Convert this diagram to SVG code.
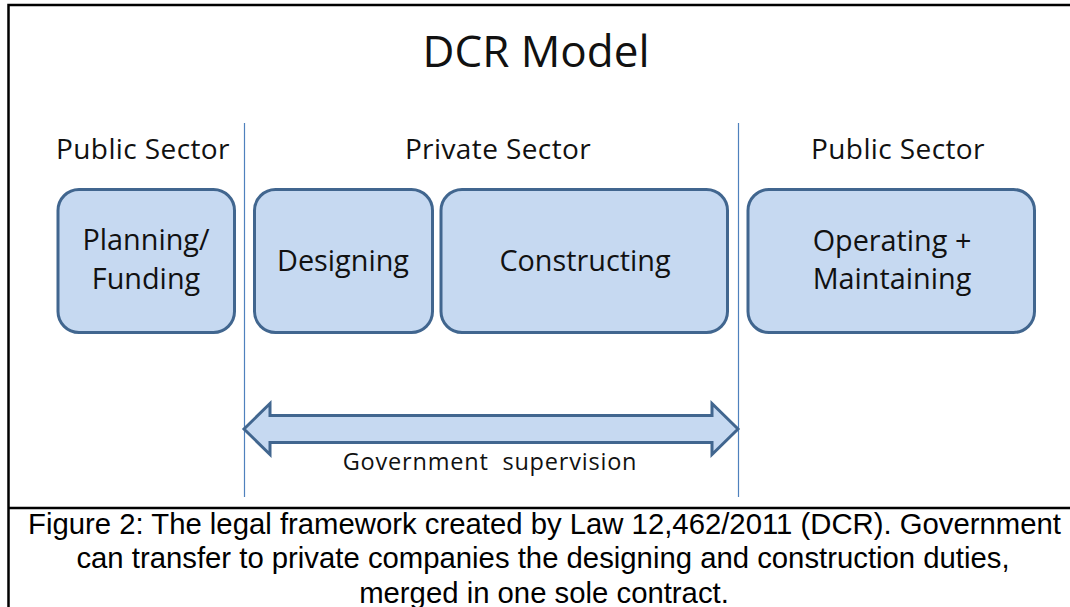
<svg xmlns="http://www.w3.org/2000/svg" width="1070" height="607" viewBox="0 0 1070 607">
<style>
.box{fill:#c6d9f1;stroke:#41668f;stroke-width:3}
.lbl{font-family:"Open Sans","Noto Sans",sans-serif;fill:#111;text-anchor:middle}
.t{font-size:28.8px}
.h{font-size:28px;letter-spacing:0.4px}
.cap{font-family:"Liberation Sans",Arial,sans-serif;font-size:29.3px;fill:#000;text-anchor:middle}
.div{stroke:#4f81bd;stroke-width:1.2}
.frame{stroke:#000;stroke-width:2.5;fill:none}
</style>
<rect width="1070" height="607" fill="#fff"/>
<g id="frame">
<path class="frame" d="M1072 5 H8.5 V609"/>
<line class="frame" x1="8" y1="508" x2="1072" y2="508"/>
</g>
<g id="title"><text class="lbl" x="536" y="67" font-size="44">DCR Model</text></g>
<g id="headers">
<text class="lbl h" x="143" y="159">Public Sector</text>
<text class="lbl h" x="498" y="159">Private Sector</text>
<text class="lbl h" x="898" y="159">Public Sector</text>
</g>
<g id="dividers">
<line class="div" x1="244.5" y1="123" x2="244.5" y2="497"/>
<line class="div" x1="738.5" y1="123" x2="738.5" y2="497"/>
</g>
<g id="planning">
<rect class="box" x="58" y="189.5" width="176.5" height="143" rx="21"/>
<text class="lbl t" x="146" y="250">Planning/</text>
<text class="lbl t" x="146" y="289">Funding</text>
</g>
<g id="designing">
<rect class="box" x="254.5" y="189.5" width="178" height="143" rx="21"/>
<text class="lbl t" x="343" y="271">Designing</text>
</g>
<g id="constructing">
<rect class="box" x="441" y="189.5" width="286.5" height="143" rx="21"/>
<text class="lbl t" x="585" y="271">Constructing</text>
</g>
<g id="operating">
<rect class="box" x="748" y="189.5" width="286.5" height="143" rx="21"/>
<text class="lbl t" x="892" y="251">Operating +</text>
<text class="lbl t" x="892" y="289">Maintaining</text>
</g>
<g id="connectors">
<polygon class="box" points="244,429 270,403.5 270,415.5 712,415.5 712,403.5 738,429 712,454.5 712,442.5 270,442.5 270,454.5"/>
<text class="lbl" x="490" y="470" font-size="23.5" letter-spacing="0.8" xml:space="preserve">Government  supervision</text>
</g>
<g id="caption">
<text class="cap" x="544.5" y="533.5">Figure 2: The legal framework created by Law 12,462/2011 (DCR). Government</text>
<text class="cap" x="543" y="568">can transfer to private companies the designing and construction duties,</text>
<text class="cap" x="544" y="602.5">merged in one sole contract.</text>
</g>
</svg>
